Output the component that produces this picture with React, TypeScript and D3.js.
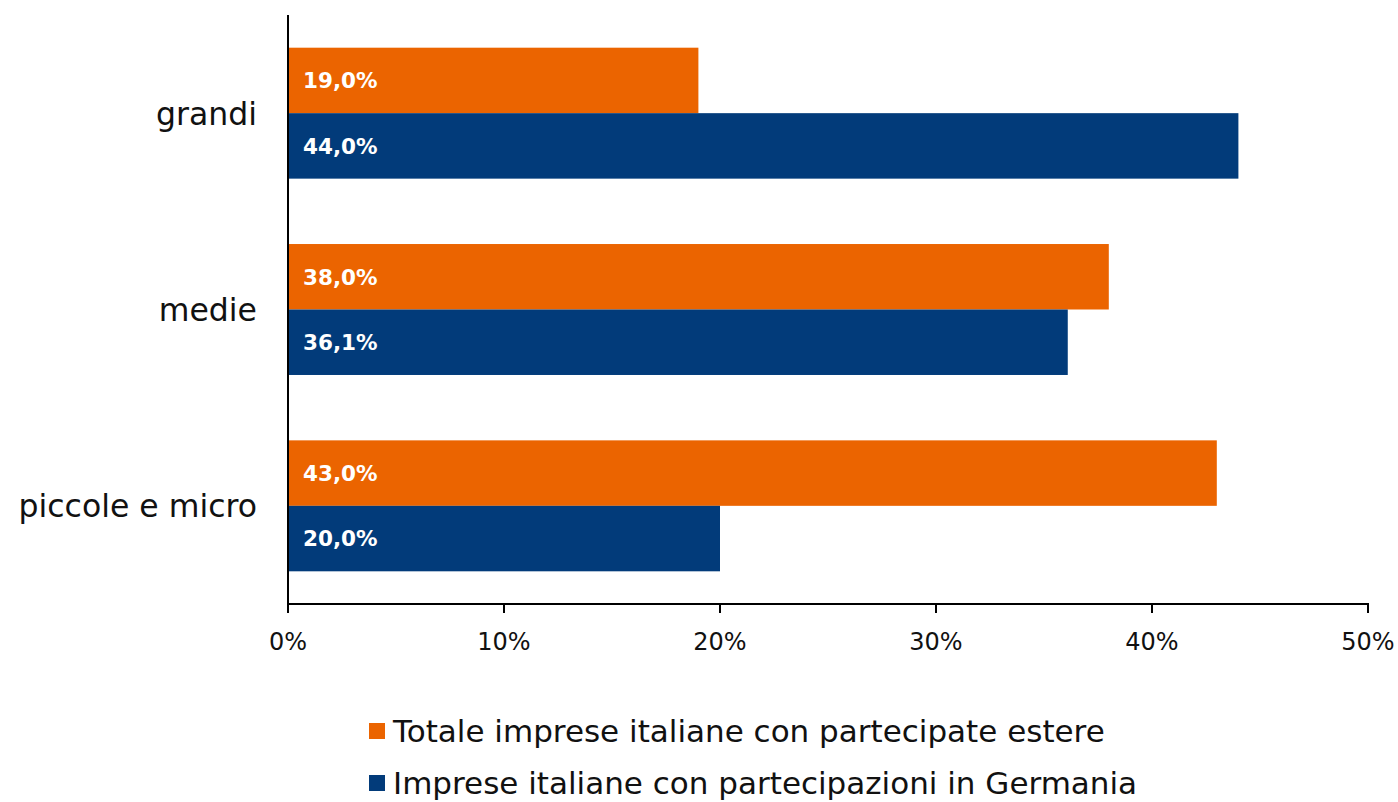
import React from 'react'
import * as d3 from 'd3'

const categories = ['grandi', 'medie', 'piccole e micro']
const seriesNames = [
  'Totale imprese italiane con partecipate estere',
  'Imprese italiane con partecipazioni in Germania',
]
const totaleValues = [19.0, 38.0, 43.0]
const germaniaValues = [44.0, 36.1, 20.0]
const xTicks = [0, 10, 20, 30, 40, 50]
const colors = ['#EB6400', '#023B7A']

const W = 1398
const H = 802
const FONT = "'DejaVu Sans', sans-serif"

export default function App() {
  const left = 288
  const right = 1368
  const top = 15
  const bottom = 604

  const x = d3.scaleLinear().domain([0, 50]).range([left, right])
  const y = d3.scaleBand<string>().domain(categories).range([top, bottom]).paddingInner(0.333).paddingOuter(0.1665)
  const sub = d3.scaleBand<number>().domain([0, 1]).range([0, y.bandwidth()])
  const series = [totaleValues, germaniaValues]
  const fmt = (v: number) => v.toFixed(1).replace('.', ',') + '%'

  return (
    <svg width={W} height={H} style={{ position: 'absolute', left: 0, top: 0, background: '#fff' }} fontFamily={FONT}>
      {series.map((vals, si) =>
        categories.map((c, ci) => {
          const y0 = (y(c) as number) + (sub(si) as number)
          return (
            <g key={`${si}-${ci}`}>
              <rect x={x(0)} y={y0} width={x(vals[ci]) - x(0)} height={sub.bandwidth()} fill={colors[si]} />
              <text x={x(0) + 15} y={y0 + sub.bandwidth() / 2} dy="0.36em" fill="#fff" fontWeight="bold" fontSize={21.5}>
                {fmt(vals[ci])}
              </text>
            </g>
          )
        })
      )}
      {categories.map(c => (
        <text key={c} x={257} y={(y(c) as number) + y.bandwidth() / 2} dy="0.36em" textAnchor="end" fontSize={31.5} fill="#111">
          {c}
        </text>
      ))}
      <line x1={left} x2={left} y1={top} y2={bottom + 1} stroke="#000" strokeWidth={2} />
      <line x1={left - 1} x2={right + 1} y1={bottom} y2={bottom} stroke="#000" strokeWidth={2} />
      {xTicks.map(t => (
        <g key={t}>
          <line x1={x(t)} x2={x(t)} y1={bottom} y2={bottom + 9} stroke="#000" strokeWidth={2} />
          <text x={x(t)} y={bottom + 37} dy="0.36em" textAnchor="middle" fontSize={24} fill="#111">
            {t}%
          </text>
        </g>
      ))}
      {seriesNames.map((n, i) => (
        <g key={n} transform={`translate(369, ${731 + i * 52})`}>
          <rect x={0} y={-8} width={16} height={16} fill={colors[i]} />
          <text x={24} y={0} dy="0.36em" fontSize={31} fill="#111">
            {n}
          </text>
        </g>
      ))}
    </svg>
  )
}
